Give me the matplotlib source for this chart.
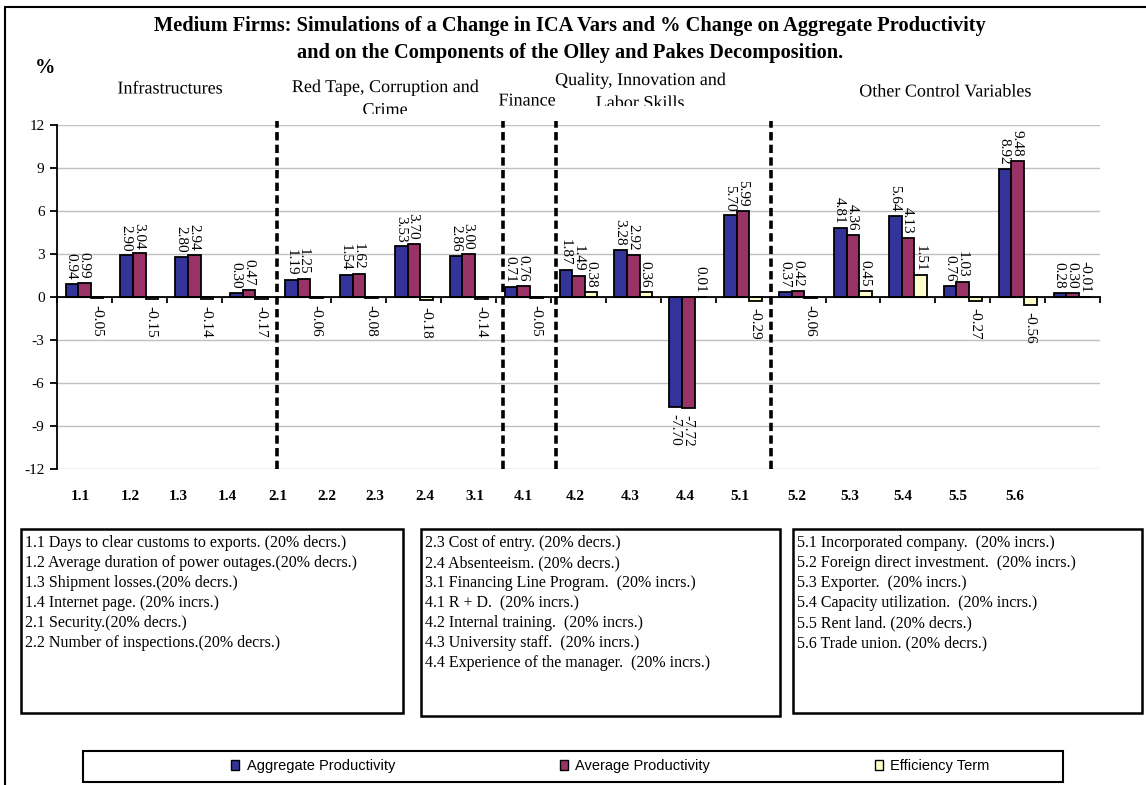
import numpy as np
import matplotlib.pyplot as plt
import matplotlib.patheffects as pe
from matplotlib import font_manager
from matplotlib.patches import Rectangle, Patch
from matplotlib.transforms import Bbox, TransformedBbox

W, H = 1146, 785

# simulated variables (x-axis codes)
codes = ['1.1', '1.2', '1.3', '1.4', '2.1', '2.2', '2.3', '2.4', '3.1',
         '4.1', '4.2', '4.3', '4.4', '5.1', '5.2', '5.3', '5.4', '5.5', '5.6']

# % change for each component
aggregate = [0.94, 2.90, 2.80, 0.30, 1.19, 1.54, 3.53, 2.86, 0.71,
             1.87, 3.28, -7.70, 5.70, 0.37, 4.81, 5.64, 0.76, 8.92, 0.28]
average = [0.99, 3.04, 2.94, 0.47, 1.25, 1.62, 3.70, 3.00, 0.76,
           1.49, 2.92, -7.72, 5.99, 0.42, 4.36, 4.13, 1.03, 9.48, 0.30]
efficiency = [-0.05, -0.15, -0.14, -0.17, -0.06, -0.08, -0.18, -0.14, -0.05,
              0.38, 0.36, 0.01, -0.29, -0.06, 0.45, 1.51, -0.27, -0.56, -0.01]

series_names = ['Aggregate Productivity', 'Average Productivity', 'Efficiency Term']
series_colors = ['#333399', '#993366', '#FFFFCC']

group_titles = ['Infrastructures', 'Red Tape, Corruption and\nCrime', 'Finance',
                'Quality, Innovation and\nLabor Skills', 'Other Control Variables']

notes_1 = ['1.1 Days to clear customs to exports. (20% decrs.)',
           '1.2 Average duration of power outages.(20% decrs.)',
           '1.3 Shipment losses.(20% decrs.)',
           '1.4 Internet page. (20% incrs.)',
           '2.1 Security.(20% decrs.)',
           '2.2 Number of inspections.(20% decrs.)']
notes_2 = ['2.3 Cost of entry. (20% decrs.)',
           '2.4 Absenteeism. (20% decrs.)',
           '3.1 Financing Line Program.  (20% incrs.)',
           '4.1 R + D.  (20% incrs.)',
           '4.2 Internal training.  (20% incrs.)',
           '4.3 University staff.  (20% incrs.)',
           '4.4 Experience of the manager.  (20% incrs.)']
notes_3 = ['5.1 Incorporated company.  (20% incrs.)',
           '5.2 Foreign direct investment.  (20% incrs.)',
           '5.3 Exporter.  (20% incrs.)',
           '5.4 Capacity utilization.  (20% incrs.)',
           '5.5 Rent land. (20% decrs.)',
           '5.6 Trade union. (20% decrs.)']

plt.rcParams['font.family'] = 'Liberation Serif'
plt.rcParams['axes.unicode_minus'] = False

installed = {f.name for f in font_manager.fontManager.ttflist}
legend_font = 'Liberation Sans Narrow' if 'Liberation Sans Narrow' in installed else 'Liberation Sans'
legend_size = 12 if legend_font == 'Liberation Sans Narrow' else 10.5


def fx(px):
    return px / W


def fy(py):
    return 1 - py / H


fig = plt.figure(figsize=(W / 100, H / 100), dpi=100)

# outer chart frame
fig.add_artist(Rectangle((fx(5), fy(800)), fx(1160), fy(7) - fy(800), fill=False,
                         lw=1.5, ec='black', transform=fig.transFigure))

ax = fig.add_axes([fx(57), fy(469), fx(1100) - fx(57), fy(125) - fy(469)])
x = np.arange(len(codes)) + 0.5
bw = 0.23

for k, vals in enumerate([aggregate, average, efficiency]):
    bars = ax.bar(x + (k - 1) * bw, vals, bw, color=series_colors[k], edgecolor='black',
                  linewidth=1.3, label=series_names[k], zorder=3)
    for b, v in zip(bars, vals):
        cx = b.get_x() + b.get_width() / 2
        if v > -0.02:
            ax.annotate(f'{v:.2f}', (cx, v), xytext=(-0.5, 3), textcoords='offset points',
                        rotation=-90, ha='center', va='bottom', fontsize=11, zorder=5)
        else:
            ax.annotate(f'{v:.2f}', (cx, v), xytext=(-0.5, -5), textcoords='offset points',
                        rotation=-90, ha='center', va='top', fontsize=11, zorder=5)

ax.set_xlim(0, len(codes))
ax.set_ylim(-12, 12)
ax.set_yticks(range(-12, 13, 3))
ax.set_xticks(range(len(codes) + 1))
ax.set_xticklabels([])
ax.tick_params(axis='y', direction='out', length=5, width=1.3, labelsize=11, pad=4)
ax.tick_params(axis='x', direction='out', length=4, width=1.3)
ax.spines['top'].set_visible(False)
ax.spines['right'].set_visible(False)
ax.spines['bottom'].set_position(('data', 0))
ax.spines['bottom'].set_linewidth(1.3)
ax.spines['left'].set_linewidth(1.3)
ax.spines['bottom'].set_zorder(4)
ax.yaxis.grid(True, color='#c0c0c0', lw=1)
ax.set_axisbelow(True)

# group separators
ax.vlines([4, 8.12, 9.09, 13], -12, 12.3, colors='black', lw=2.6,
          linestyles=[(0, (2.3, 1.2))], zorder=4, clip_on=False)

# category codes under the plot
label_pos = [0.42, 1.33, 2.20, 3.11, 4.03, 4.92, 5.79, 6.70, 7.61,
             8.49, 9.44, 10.44, 11.44, 12.44, 13.48, 14.44, 15.41, 16.41, 17.45]
for p, c in zip(label_pos, codes):
    ax.text(p, (469 - 497) / 344, c, transform=ax.get_xaxis_transform(),
            ha='center', va='center', fontsize=11, fontweight='bold')

# title and unit
fig.text(fx(570), fy(26), 'Medium Firms: Simulations of a Change in ICA Vars and % Change on Aggregate Productivity',
         ha='center', va='center', fontsize=14.7, fontweight='bold')
fig.text(fx(570), fy(53), 'and on the Components of the Olley and Pakes Decomposition.',
         ha='center', va='center', fontsize=14.7, fontweight='bold')
fig.text(fx(45), fy(68), '%', ha='center', va='center', fontsize=14.7, fontweight='bold')

# group headers, clipped at the bottom of their text boxes
headers = [(170, 89, 118), (385, 99, 114), (527, 101, 118), (640, 92, 106), (945, 92, 118)]
for title, (hx, hy, clip_y) in zip(group_titles, headers):
    t = fig.text(fx(hx), fy(hy), title, ha='center', va='center', fontsize=13,
                 linespacing=1.45, path_effects=[pe.Normal()])
    t.set_clip_box(TransformedBbox(Bbox.from_extents(0, fy(clip_y), 1, 1), fig.transFigure))
    t.set_clip_on(True)

# variable descriptions
for (l, r, b), notes in zip([(21, 403, 713), (421, 780, 716), (793, 1142, 713)],
                            [notes_1, notes_2, notes_3]):
    fig.add_artist(Rectangle((fx(l), fy(b)), fx(r) - fx(l), fy(529) - fy(b), fill=False,
                             lw=1.8, ec='black', transform=fig.transFigure))
    for i, line in enumerate(notes):
        fig.text(fx(l + 4), fy(543 + i * 20), line, ha='left', va='center', fontsize=11.5)

# legend
fig.add_artist(Rectangle((fx(83), fy(782)), fx(1063) - fx(83), fy(751) - fy(782), fill=False,
                         lw=1.5, ec='black', transform=fig.transFigure))
handles = [Patch(facecolor=c, edgecolor='black', lw=1) for c in series_colors]
spacing = 10.9 if legend_font == 'Liberation Sans Narrow' else 11.3
fig.legend(handles, series_names, loc='center left', bbox_to_anchor=(fx(224), fy(766)),
           ncol=3, frameon=False, handlelength=0.55, handleheight=0.75, handletextpad=0.5,
           columnspacing=spacing, borderpad=0, prop={'family': legend_font, 'size': legend_size})

fig.savefig('out.png', dpi=100)
